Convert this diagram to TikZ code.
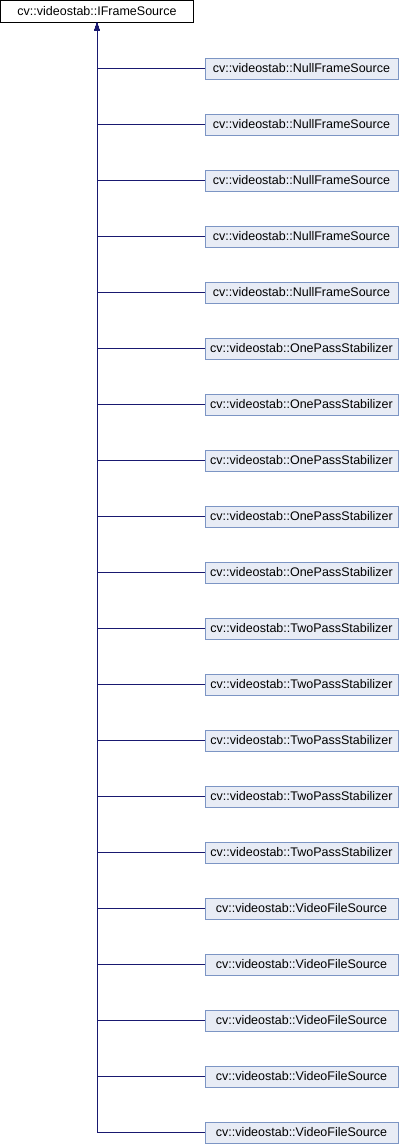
\documentclass[tikz,border=0pt]{standalone}
\usepackage{fontspec}
\setmainfont{Liberation Sans}
\usetikzlibrary{arrows.meta}
\definecolor{edgeblue}{RGB}{25,25,112}
\definecolor{boxfill}{RGB}{232,236,245}
\definecolor{boxline}{RGB}{124,149,196}
\begin{document}
\begin{tikzpicture}[x=1pt,y=-1pt,
    base/.style={draw=black,fill=white,minimum width=193pt,minimum height=22pt,inner sep=0pt,font=\fontsize{12.5}{14}\selectfont},
    derived/.style={base,draw=boxline,fill=boxfill,minimum height=21pt},
    inherit/.style={edgeblue,-{Triangle[length=8pt,width=5pt]}}]
    \useasboundingbox (0,0) rectangle (400,1144);
    \node [base] (iframe) at (97,11.5) {cv::videostab::IFrameSource};
    % derived classes, one every 56px
    \foreach \name [count=\i from 0] in {NullFrameSource,NullFrameSource,NullFrameSource,NullFrameSource,NullFrameSource,
        OnePassStabilizer,OnePassStabilizer,OnePassStabilizer,OnePassStabilizer,OnePassStabilizer,
        TwoPassStabilizer,TwoPassStabilizer,TwoPassStabilizer,TwoPassStabilizer,TwoPassStabilizer,
        VideoFileSource,VideoFileSource,VideoFileSource,VideoFileSource,VideoFileSource} {
      \node [derived] (child\i) at (301.5,68.5+56*\i) {cv::videostab::\name};
      \draw [inherit] (child\i.west) -| (iframe.south);
    }
\end{tikzpicture}
\end{document}
